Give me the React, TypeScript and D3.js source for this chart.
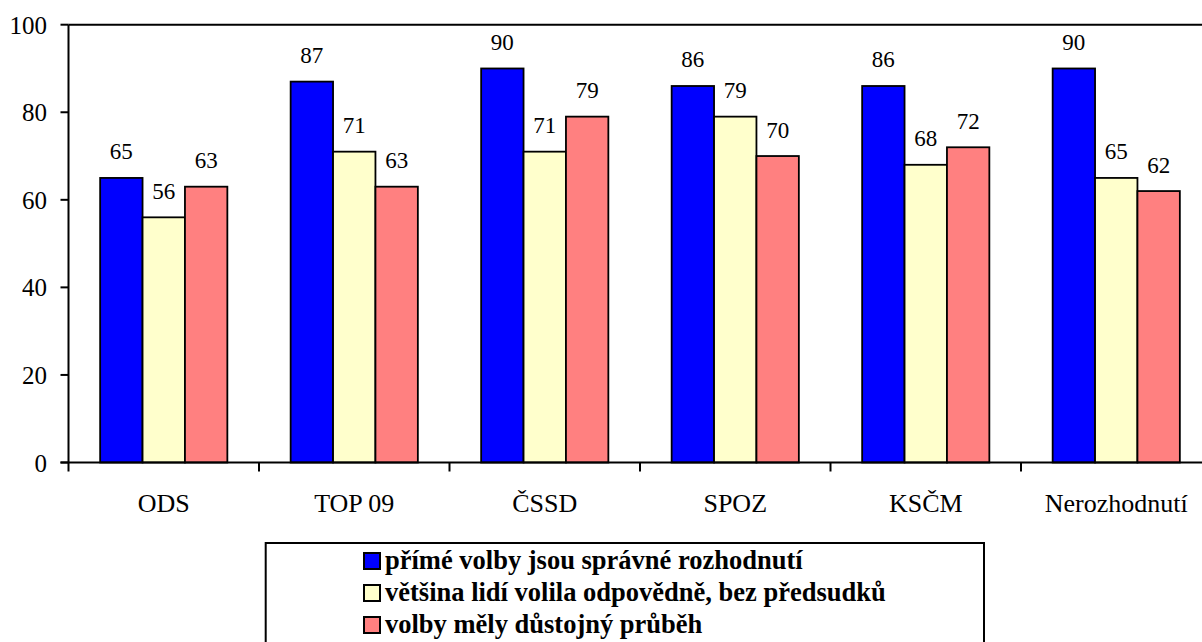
import * as d3 from "d3";

const categories = ["ODS", "TOP 09", "ČSSD", "SPOZ", "KSČM", "Nerozhodnutí"];
const seriesNames = [
  "přímé volby jsou správné rozhodnutí",
  "většina lidí volila odpovědně, bez předsudků",
  "volby měly důstojný průběh",
];
const seriesColors = ["#0000FF", "#FFFFCC", "#FF8080"];
const directElection = [65, 87, 90, 86, 86, 90];
const responsibleVote = [56, 71, 71, 79, 68, 65];
const dignifiedCourse = [63, 63, 79, 70, 72, 62];
const yTicks = [0, 20, 40, 60, 80, 100];

const series = [directElection, responsibleVote, dignifiedCourse];

const W = 1202;
const H = 642;
const left = 68.5;
const top = 24.7;
const bottom = 462.5;
const bandW = 190.5;
const barW = 42.4;
const font = '"Liberation Serif", "Times New Roman", Times, "DejaVu Serif", serif';

export default function App() {
  const x0 = d3
    .scaleBand<string>()
    .domain(categories)
    .range([left, left + bandW * categories.length])
    .padding(0);
  const groupW = barW * series.length;
  const groupOff = (bandW - groupW) / 2;
  const x1 = d3
    .scaleBand<number>()
    .domain(d3.range(series.length))
    .range([groupOff, groupOff + groupW])
    .padding(0);
  const y = d3.scaleLinear().domain([0, 100]).range([bottom, top]);

  return (
    <svg
      width={W}
      height={H}
      style={{
        position: "absolute",
        left: 0,
        top: 0,
        display: "block",
        background: "#fff",
        fontFamily: font,
      }}
    >
      {/* bars */}
      {categories.map((c, ci) =>
        series.map((s, si) => {
          const bx = x0(c)! + x1(si)!;
          const by = y(s[ci]);
          return (
            <g key={`${c}-${si}`}>
              <rect
                x={bx}
                y={by}
                width={x1.bandwidth()}
                height={bottom - by}
                fill={seriesColors[si]}
                stroke="#000"
                strokeWidth={1.8}
              />
              <text
                x={bx + x1.bandwidth() / 2}
                y={by - 18.5}
                textAnchor="middle"
                style={{ fontFamily: font, fontSize: 23 }}
              >
                {s[ci]}
              </text>
            </g>
          );
        })
      )}

      {/* frame */}
      <line x1={left} x2={W} y1={top} y2={top} stroke="#000" strokeWidth={2} />
      <line x1={left} x2={left} y1={top} y2={bottom} stroke="#000" strokeWidth={2} />
      <line x1={left - 8} x2={W} y1={bottom} y2={bottom} stroke="#000" strokeWidth={2} />

      {/* y axis */}
      {yTicks.map((t) => (
        <g key={t}>
          <line x1={left - 8} x2={left} y1={y(t)} y2={y(t)} stroke="#000" strokeWidth={2} />
          <text
            x={47}
            y={y(t) + 9}
            textAnchor="end"
            style={{ fontFamily: font, fontSize: 25 }}
          >
            {t}
          </text>
        </g>
      ))}

      {/* x axis */}
      {d3.range(categories.length + 1).map((i) => (
        <line
          key={i}
          x1={left + i * bandW}
          x2={left + i * bandW}
          y1={bottom}
          y2={bottom + 9}
          stroke="#000"
          strokeWidth={2}
        />
      ))}
      {categories.map((c) => (
        <text
          key={c}
          x={x0(c)! + bandW / 2}
          y={512}
          textAnchor="middle"
          style={{ fontFamily: font, fontSize: 26 }}
        >
          {c}
        </text>
      ))}

      {/* legend */}
      <rect x={265.7} y={543} width={984 - 265.7} height={120} fill="#fff" stroke="#000" strokeWidth={2} />
      {seriesNames.map((n, i) => (
        <g key={n} transform={`translate(364, ${553 + i * 32})`}>
          <rect width={16} height={16} fill={seriesColors[i]} stroke="#000" strokeWidth={2} />
          <text x={21} y={15.5} style={{ fontFamily: font, fontSize: 26.5, fontWeight: "bold" }}>
            {n}
          </text>
        </g>
      ))}
    </svg>
  );
}
